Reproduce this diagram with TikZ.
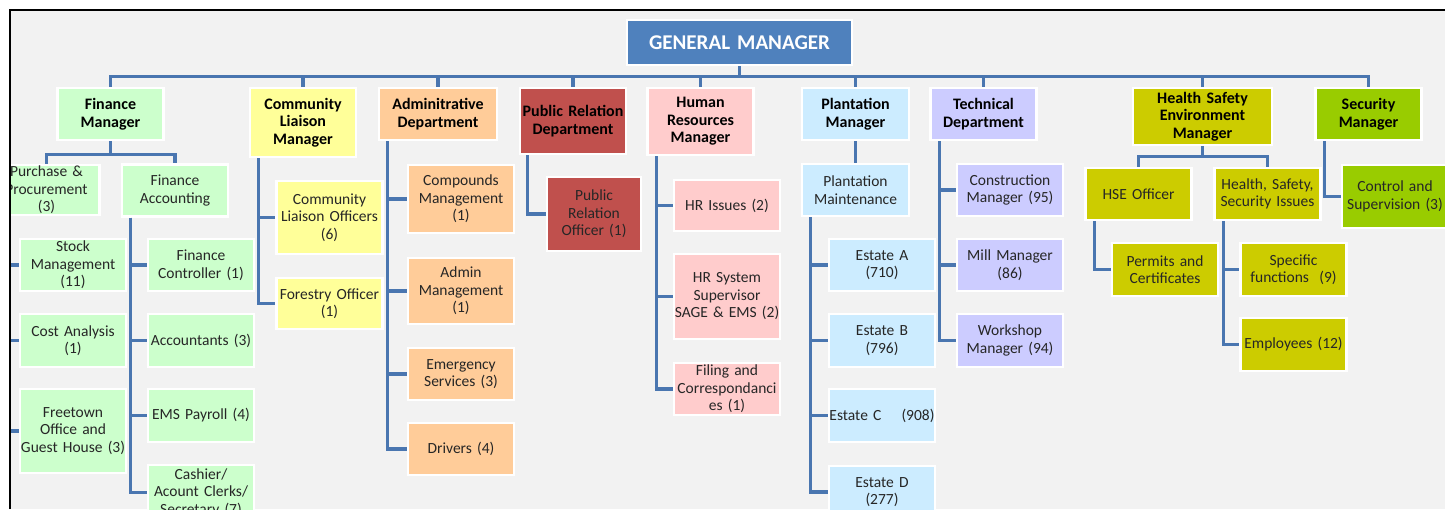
\documentclass[tikz,border=0pt]{standalone}
\usepackage{fontspec}
\setmainfont{Carlito}
\definecolor{gmblue}{HTML}{4F81BD}
\definecolor{linkblue}{HTML}{4A76B0}
\definecolor{fingreen}{HTML}{CCFFCC}
\definecolor{clyellow}{HTML}{FFFF99}
\definecolor{admorange}{HTML}{FFCC99}
\definecolor{prred}{HTML}{C0504D}
\definecolor{hrpink}{HTML}{FFCCCC}
\definecolor{plblue}{HTML}{CCECFF}
\definecolor{techblue}{HTML}{CCCCFF}
\definecolor{hseolive}{HTML}{CCCC00}
\definecolor{secgreen}{HTML}{99CC00}
\definecolor{bggray}{HTML}{F2F2F2}
\begin{document}
\begin{tikzpicture}[x=1pt,y=-1pt,
 box/.style={draw=white,line width=2.5pt,align=center,text width=114pt,inner xsep=-4pt,inner ysep=0pt,
  minimum height=52pt,text=black!85,font=\fontsize{15.5}{17.5}\selectfont},
 head/.style={box,text=black,font=\fontsize{16}{17.5}\selectfont\bfseries},
 link/.style={draw=linkblue,line width=3.2pt}]
 \useasboundingbox (0,0) rectangle (1445,509);
 \fill[white] (0,0) rectangle (1445,509);
 \begin{scope}
 \clip (11,11) rectangle (1445,509);
 \fill[bggray] (11,11) rectangle (1445,509);

 \node[box,fill=gmblue,text=white,text width=233pt,minimum height=45pt,font=\fontsize{21}{24}\selectfont\bfseries] (gm) at (739.5,42.5) {GENERAL MANAGER};

 \node[head,fill=fingreen] (finm) at (110.5,114) {Finance\\Manager};
 \node[head,fill=clyellow,minimum height=69pt] (clm) at (303,122.5) {Community\\Liaison\\Manager};
 \node[head,fill=admorange,text width=126pt] (adm) at (438,114) {Adminitrative\\Department};
 \node[head,fill=prred,minimum height=66pt] (prd) at (573,121) {Public Relation\\Department};
 \node[head,fill=hrpink,minimum height=67pt] (hrm) at (700.5,121.5) {Human\\Resources\\Manager};
 \node[head,fill=plblue,text width=115pt] (plm) at (855.5,114) {Plantation\\Manager};
 \node[head,fill=techblue] (tech) at (983.5,114) {Technical\\Department};
 \node[head,fill=hseolive,text width=147pt,minimum height=57pt] (hsem) at (1202.5,116.5) {Health Safety\\Environment\\Manager};
 \node[head,fill=secgreen] (secm) at (1368.5,114) {Security\\Manager};

 \node[box,fill=fingreen,minimum height=50pt] (pp) at (46.5,190) {Purchase \&\\Procurement\\(3)};
 \node[box,fill=fingreen] (fa) at (175,190.5) {Finance\\Accounting};
 \node[box,fill=fingreen] (stock) at (73,265) {Stock\\Management\\(11)};
 \node[box,fill=fingreen,minimum height=53pt] (cost) at (73,340.5) {Cost Analysis\\(1)};
 \node[box,fill=fingreen,minimum height=84pt] (town) at (73,431) {Freetown\\Office and\\Guest House (3)};
 \node[box,fill=fingreen] (fc) at (201,265) {Finance\\Controller (1)};
 \node[box,fill=fingreen,minimum height=53pt] (acc) at (201,340.5) {Accountants (3)};
 \node[box,fill=fingreen,minimum height=53pt] (ems) at (201,415.5) {EMS Payroll (4)};
 \node[box,fill=fingreen,minimum height=55pt] (cash) at (201,492.5) {Cashier/\\Acount Clerks/\\Secretary (7)};

 \node[box,fill=clyellow,minimum height=73pt] (clo) at (329.5,217.5) {Community\\Liaison Officers\\(6)};
 \node[box,fill=clyellow,minimum height=51pt] (fo) at (329.5,303.5) {Forestry Officer\\(1)};

 \node[box,fill=admorange,minimum height=68pt] (cm) at (461,199) {Compounds\\Management\\(1)};
 \node[box,fill=admorange,minimum height=66pt] (am) at (461,291) {Admin\\Management\\(1)};
 \node[box,fill=admorange] (es) at (461,374) {Emergency\\Services (3)};
 \node[box,fill=admorange] (drv) at (461,449) {Drivers (4)};

 \node[box,fill=prred,text width=102pt,minimum height=74pt] (pro) at (594,214) {Public\\Relation\\Officer (1)};

 \node[box,fill=hrpink,minimum height=51pt] (hri) at (727,205.5) {HR Issues (2)};
 \node[box,fill=hrpink,minimum height=85pt] (hrs) at (727,296.5) {HR System\\Supervisor\\SAGE \& EMS (2)};
 \node[box,fill=hrpink] (fil) at (727,389) {Filing and\\Correspondanci\\es (1)};

 \node[box,fill=plblue,text width=115pt] (pm) at (855.5,190) {Plantation\\Maintenance};
 \node[box,fill=plblue] (ea) at (882,265) {Estate A\\(710)};
 \node[box,fill=plblue,minimum height=53pt] (eb) at (882,340.5) {Estate B\\(796)};
 \node[box,fill=plblue,minimum height=53pt] (ec) at (882,415.5) {Estate C\hspace{1.3em}(908)};
 \node[box,fill=plblue] (ed) at (882,492) {Estate D\\(277)};

 \node[box,fill=techblue] (cmg) at (1010,190) {Construction\\Manager (95)};
 \node[box,fill=techblue] (mill) at (1010,265) {Mill Manager\\(86)};
 \node[box,fill=techblue,minimum height=53pt] (ws) at (1010,340.5) {Workshop\\Manager (94)};

 \node[box,fill=hseolive] (hseo) at (1138.5,194) {HSE Officer};
 \node[box,fill=hseolive] (hss) at (1267.5,194) {Health, Safety,\\Security Issues};
 \node[box,fill=hseolive,minimum height=53pt] (pc) at (1165,269.5) {Permits and\\Certificates};
 \node[box,fill=hseolive,minimum height=53pt] (sf) at (1293.5,269.5) {Specific\\functions\ \ (9)};
 \node[box,fill=hseolive,minimum height=53pt] (emp) at (1293.5,344.5) {Employees (12)};

 \node[box,fill=secgreen,minimum height=63pt] (cs) at (1395,196.5) {Control and\\Supervision (3)};

 \coordinate (bus) at (739.5,76.5);
 \draw[link] (gm.south) -- (bus);
 \foreach \h in {finm,clm,adm,prd,hrm,plm,tech,hsem,secm}
  \draw[link] (bus) -| (\h.north);

 \draw[link] (finm.south) -- ++(0,13) -| (pp.north);
 \draw[link] (finm.south) -- ++(0,13) -| (fa.north);
 \foreach \c in {stock,cost,town}
  \draw[link] ([xshift=10pt]pp.south west) |- (\c.west);
 \foreach \c in {fc,acc,ems,cash}
  \draw[link] ([xshift=10pt]fa.south west) |- (\c.west);
 \foreach \c in {clo,fo}
  \draw[link] ([xshift=10pt]clm.south west) |- (\c.west);
 \foreach \c in {cm,am,es,drv}
  \draw[link] ([xshift=10pt]adm.south west) |- (\c.west);
 \draw[link] ([xshift=9pt]prd.south west) |- (pro.west);
 \foreach \c in {hri,hrs,fil}
  \draw[link] ([xshift=10pt]hrm.south west) |- (\c.west);
 \draw[link] (plm.south) -- (pm.north);
 \foreach \c in {ea,eb,ec,ed}
  \draw[link] ([xshift=10pt]pm.south west) |- (\c.west);
 \foreach \c in {cmg,mill,ws}
  \draw[link] ([xshift=10pt]tech.south west) |- (\c.west);
 \draw[link] (hsem.south) -- ++(0,10) -| (hseo.north);
 \draw[link] (hsem.south) -- ++(0,10) -| (hss.north);
 \draw[link] ([xshift=10pt]hseo.south west) |- (pc.west);
 \foreach \c in {sf,emp}
  \draw[link] ([xshift=10pt]hss.south west) |- (\c.west);
 \draw[link] ([xshift=10pt]secm.south west) |- (cs.west);
 \end{scope}
 \draw[line width=2pt] (10,509) -- (10,10) -- (1445,10);
\end{tikzpicture}
\end{document}
